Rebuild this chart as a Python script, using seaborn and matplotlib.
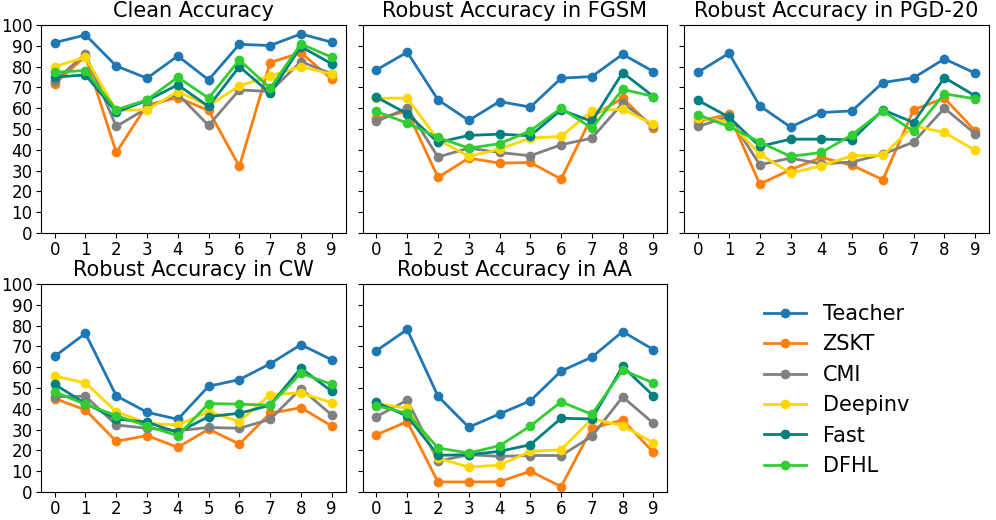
import pandas as pd
import matplotlib.pyplot as plt
import seaborn as sns

# Class index on the x axis
classes = list(range(10))
methods = ["Teacher", "ZSKT", "CMI", "Deepinv", "Fast", "DFHL"]
colors = ["#1f77b4", "#ff7f0e", "gray", "gold", "teal", "limegreen"]

# Values
clean_teacher = [91.5, 95.2, 80.3, 74.4, 85.1, 73.6, 90.7, 90.1, 95.7, 91.7]
clean_zskt = [71.7, 85.0, 38.7, 61.5, 65.1, 58.9, 32.0, 81.9, 86.7, 73.9]
clean_cmi = [73.1, 86.1, 51.2, 60.0, 66.8, 51.7, 68.8, 68.0, 82.4, 76.5]
clean_deepinv = [80.0, 84.5, 58.9, 59.2, 68.0, 61.1, 70.7, 75.5, 80.0, 76.3]
clean_fast = [74.9, 76.0, 58.1, 63.7, 71.2, 60.8, 80.0, 67.2, 89.6, 81.3]
clean_dfhl = [77.3, 78.1, 59.2, 64.0, 74.9, 64.8, 83.2, 69.6, 90.9, 84.5]

fgsm_teacher = [78.4, 86.9, 64.0, 54.1, 63.2, 60.5, 74.4, 75.2, 85.9, 77.6]
fgsm_zskt = [55.2, 58.4, 26.7, 36.0, 33.6, 33.9, 25.9, 56.0, 64.8, 50.4]
fgsm_cmi = [53.6, 60.0, 36.5, 40.8, 38.7, 37.1, 42.4, 45.6, 62.4, 51.5]
fgsm_deepinv = [64.8, 64.8, 44.8, 36.8, 40.3, 45.6, 46.4, 58.7, 59.5, 52.3]
fgsm_fast = [65.3, 57.3, 43.5, 46.9, 47.5, 46.7, 59.2, 53.6, 77.1, 65.6]
fgsm_dfhl = [58.4, 52.8, 45.9, 40.8, 42.9, 49.1, 60.0, 50.4, 69.1, 65.6]

pgd_teacher = [77.3, 86.4, 61.1, 50.9, 57.9, 58.7, 72.3, 74.6, 83.7, 76.8]
pgd_zskt = [53.6, 57.1, 23.5, 30.4, 36.3, 32.5, 25.6, 59.2, 64.8, 49.1]
pgd_cmi = [51.2, 56.0, 32.8, 36.0, 33.2, 34.1, 37.9, 43.7, 60.0, 47.7]
pgd_deepinv = [55.2, 53.5, 37.9, 28.8, 32.3, 37.1, 37.3, 51.5, 48.3, 39.7]
pgd_fast = [63.7, 55.7, 41.6, 45.1, 45.1, 44.8, 59.2, 53.1, 74.7, 65.9]
pgd_dfhl = [56.8, 51.2, 43.7, 36.8, 38.7, 47.2, 58.7, 48.8, 66.9, 64.5]

cw_teacher = [65.2, 76.2, 46.2, 38.3, 34.9, 50.8, 54.0, 61.6, 70.8, 63.5]
cw_zskt = [44.9, 39.4, 24.3, 27.1, 21.4, 30.2, 23.0, 37.8, 40.5, 31.7]
cw_cmi = [45.7, 46.0, 32.2, 30.6, 29.4, 31.0, 30.6, 34.9, 49.7, 37.0]
cw_deepinv = [55.7, 52.4, 38.6, 33.0, 32.2, 38.6, 33.8, 46.8, 47.6, 42.9]
cw_fast = [51.7, 42.5, 35.1, 33.5, 28.6, 36.2, 37.8, 41.7, 59.5, 48.4]
cw_dfhl = [48.1, 42.1, 36.7, 31.7, 27.0, 42.5, 42.2, 41.7, 57.1, 51.7]

aa_teacher = [67.9, 78.1, 46.0, 31.1, 37.5, 43.8, 58.1, 64.8, 77.1, 68.4]
aa_zskt = [27.5, 33.8, 4.8, 4.8, 4.9, 10.0, 2.5, 30.6, 34.6, 19.0]
aa_cmi = [36.2, 44.1, 14.8, 17.9, 17.1, 17.5, 17.5, 26.7, 45.7, 33.0]
aa_deepinv = [42.5, 40.2, 16.3, 11.9, 12.9, 19.5, 20.3, 35.1, 31.9, 23.5]
aa_fast = [43.0, 36.5, 17.6, 17.9, 19.5, 22.7, 35.4, 35.1, 60.3, 46.2]
aa_dfhl = [41.4, 37.8, 21.1, 18.7, 22.2, 31.7, 43.3, 37.3, 58.6, 52.4]

panels = [
    ("Clean Accuracy", [clean_teacher, clean_zskt, clean_cmi, clean_deepinv, clean_fast, clean_dfhl]),
    ("Robust Accuracy in FGSM", [fgsm_teacher, fgsm_zskt, fgsm_cmi, fgsm_deepinv, fgsm_fast, fgsm_dfhl]),
    ("Robust Accuracy in PGD-20", [pgd_teacher, pgd_zskt, pgd_cmi, pgd_deepinv, pgd_fast, pgd_dfhl]),
    ("Robust Accuracy in CW", [cw_teacher, cw_zskt, cw_cmi, cw_deepinv, cw_fast, cw_dfhl]),
    ("Robust Accuracy in AA", [aa_teacher, aa_zskt, aa_cmi, aa_deepinv, aa_fast, aa_dfhl]),
]

fig, axes = plt.subplots(2, 3, figsize=(9.96, 5.2), dpi=100, sharey=True)
fig.subplots_adjust(left=0.041, right=0.993, top=0.952, bottom=0.054,
                    wspace=0.056, hspace=0.245)

for ax, (title, series) in zip(axes.flat, panels):
    rows = []
    for name, vals in zip(methods, series):
        for c, v in zip(classes, vals):
            rows.append({"cls": c, "acc": v, "method": name})
    df = pd.DataFrame(rows)
    sns.lineplot(data=df, x="cls", y="acc", hue="method", hue_order=methods,
                 palette=colors, marker="o", markersize=7, markeredgewidth=0,
                 linewidth=2, ax=ax, legend=True)
    ax.set_title(title, fontsize=15)
    ax.set_xlabel("")
    ax.set_ylabel("")
    ax.set_xticks(classes)
    ax.set_yticks(range(0, 101, 10))
    ax.set_ylim(0, 100)
    ax.tick_params(labelsize=12, pad=2.5)
    ax.get_legend().remove()

# shared y labels only on the left column
for ax in axes[:, 1:].flat:
    ax.tick_params(labelleft=False)

handles, labels = axes[0, 0].get_legend_handles_labels()
axes[1, 2].axis("off")
fig.legend(handles, labels, loc="center", bbox_to_anchor=(0.84, 0.25),
           frameon=False, fontsize=15)

plt.savefig("out.png", dpi=100)
